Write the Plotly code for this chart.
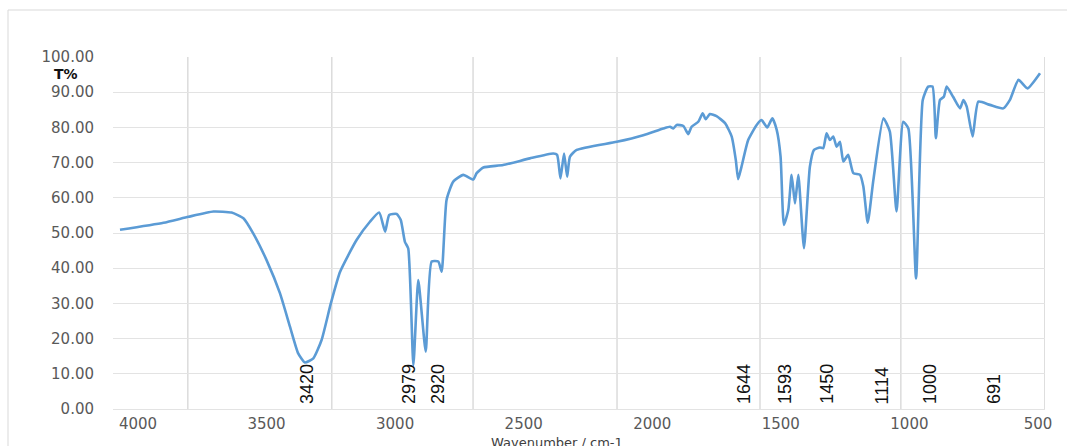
import plotly.graph_objects as go

# ---- data ----
wavenumber = [4070, 3901, 3804, 3707, 3636, 3590, 3552, 3500, 3448, 3409, 3377, 3351, 3318, 3286,
              3250, 3214, 3150, 3098, 3062, 3039, 3023, 2994, 2978, 2962, 2949, 2929, 2910, 2881,
              2858, 2832, 2819, 2800, 2774, 2735, 2696, 2683, 2657, 2580, 2476, 2385, 2370, 2357,
              2343, 2331, 2320, 2294, 2138, 2035, 1957, 1931, 1918, 1905, 1879, 1860, 1847, 1821,
              1804, 1792, 1776, 1750, 1717, 1691, 1675, 1666, 1653, 1627, 1594, 1575, 1553, 1533,
              1516, 1501, 1488, 1471, 1458, 1445, 1432, 1410, 1387, 1371, 1348, 1335, 1322, 1309,
              1296, 1283, 1270, 1257, 1238, 1218, 1192, 1179, 1162, 1140, 1101, 1076, 1050, 1024,
              1004, 974, 948, 927, 910, 897, 881, 866, 855, 830, 803, 790, 777, 754, 732, 687,
              635, 609, 576, 541, 492]
transmittance = [50.9, 52.9, 54.6, 56.1, 55.8, 54.2, 49.9, 42.3, 32.9, 23.4, 15.8, 13.2, 14.4, 19.6,
                 30.0, 39.0, 48.0, 53.2, 55.8, 50.4, 55.1, 55.4, 53.7, 47.5, 45.6, 12.5, 36.6, 16.3,
                 41.9, 41.9, 39.0, 59.4, 64.6, 66.5, 65.2, 67.0, 68.6, 69.3, 71.2, 72.6, 72.2, 65.5,
                 72.6, 66.0, 71.7, 73.6, 75.9, 77.8, 79.7, 80.2, 79.7, 80.7, 80.4, 78.1, 80.2, 81.6,
                 84.0, 82.3, 83.8, 83.2, 81.2, 77.4, 70.7, 65.3, 68.8, 76.4, 80.7, 82.1, 80.0, 82.6,
                 79.3, 71.7, 52.3, 56.5, 66.5, 58.4, 66.5, 45.7, 68.8, 73.6, 74.3, 74.1, 78.3, 76.4,
                 77.4, 74.5, 75.9, 70.3, 72.2, 67.0, 66.5, 63.2, 52.9, 65.1, 82.6, 78.8, 56.1, 81.6,
                 79.7, 37.1, 87.8, 91.6, 91.6, 76.9, 87.8, 88.7, 91.6, 88.7, 85.4, 87.8, 85.9, 77.4,
                 87.3, 86.4, 85.4, 87.8, 93.5, 91.1, 95.4]

peak_labels = ["3420", "2979", "2920", "1644", "1593", "1450", "1114", "1000", "691"]
peak_label_at = [3343, 2946, 2833, 1643, 1484, 1321, 1107, 920, 671]

x_ticks = [4000, 3500, 3000, 2500, 2000, 1500, 1000, 500]
y_ticks = [0, 10, 20, 30, 40, 50, 60, 70, 80, 90, 100]
x_grid = [3806, 3246, 2697, 2137, 1581, 1033, 473]

x_title = "Wavenumber / cm-1"
y_title = "T%"

# ---- figure ----
W, H = 1067, 446
ML, MR, MT, MB = 113, 22, 57, 37
plot_w = W - ML - MR
plot_h = H - MT - MB


def px_x(p):
    return (p - ML) / plot_w


def px_y(p):
    return (H - MB - p) / plot_h


fig = go.Figure()
fig.add_trace(go.Scatter(
    x=wavenumber, y=transmittance, mode="lines",
    line=dict(color="#5b9bd5", width=2.6, shape="spline", smoothing=0.5),
    showlegend=False, hoverinfo="x+y",
))

shapes = []
for g in x_grid:
    shapes.append(dict(type="line", xref="x", yref="paper", x0=g, x1=g, y0=0, y1=1,
                       line=dict(color="#c9c9c9", width=1), layer="below"))
# outer chart frame
shapes.append(dict(type="rect", xref="paper", yref="paper",
                   x0=px_x(8), x1=px_x(1075), y0=px_y(452), y1=px_y(10),
                   line=dict(color="#d9d9d9", width=1), fillcolor="rgba(0,0,0,0)", layer="below"))

annotations = []
for lab, at in zip(peak_labels, peak_label_at):
    annotations.append(dict(
        x=at, y=px_y(406), xref="x", yref="paper", text=lab, showarrow=False,
        textangle=-90, xanchor="center", yanchor="bottom",
        font=dict(family="Liberation Sans Narrow, Arial Narrow, sans-serif", size=18, color="#111111"),
    ))
annotations.append(dict(
    x=px_x(66), y=px_y(74), xref="paper", yref="paper", text="<b>" + y_title + "</b>",
    showarrow=False, xanchor="center", yanchor="middle",
    font=dict(family="DejaVu Sans, sans-serif", size=14, color="#111111"),
))
annotations.append(dict(
    x=px_x(557), y=px_y(433), xref="paper", yref="paper", text=x_title,
    showarrow=False, xanchor="center", yanchor="top",
    font=dict(family="DejaVu Sans, sans-serif", size=13, color="#404040"),
))

fig.update_layout(
    width=W, height=H,
    margin=dict(l=ML, r=MR, t=MT, b=MB, pad=0),
    paper_bgcolor="white", plot_bgcolor="white",
    shapes=shapes, annotations=annotations,
    xaxis=dict(
        range=[4097.2, 472.6], tickvals=x_ticks, ticktext=[str(v) for v in x_ticks],
        showgrid=False, zeroline=False, showline=False, ticks="",
        ticklabelstandoff=4,
        tickfont=dict(family="DejaVu Sans, sans-serif", size=15, color="#595959"),
    ),
    yaxis=dict(
        range=[0, 100], tickvals=y_ticks, tickformat=".2f",
        showgrid=True, gridcolor="#e3e3e3", gridwidth=1,
        zeroline=True, zerolinecolor="#e3e3e3", zerolinewidth=1,
        showline=False, ticks="", ticklabelstandoff=18,
        tickfont=dict(family="DejaVu Sans, sans-serif", size=15, color="#595959"),
    ),
)

fig.write_html(
    "out.html",
    config={"displayModeBar": False},
    post_script="document.body.style.margin='0';document.body.style.overflow='hidden';",
)
